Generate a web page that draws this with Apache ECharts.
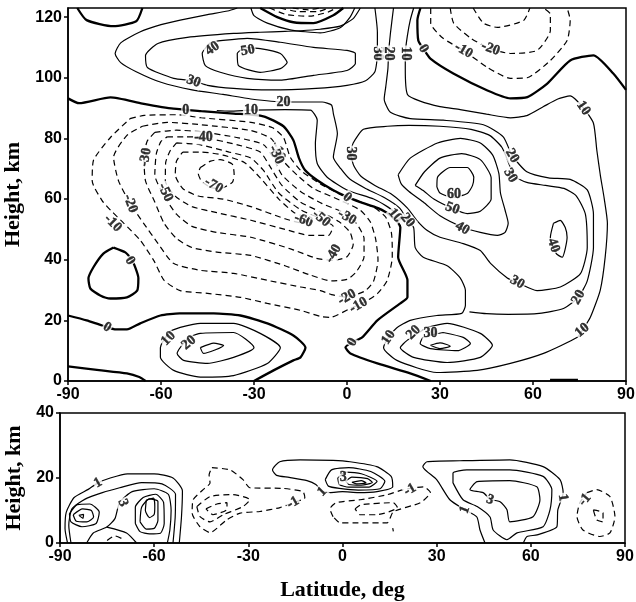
<!DOCTYPE html>
<html>
<head>
<meta charset="utf-8">
<script src="https://cdn.jsdelivr.net/npm/echarts@6/dist/echarts.min.js"></script>
<style>
  html, body { margin: 0; padding: 0; background: #fff; }
  #main { width: 636px; height: 602px; }
</style>
</head>
<body>
<div id="main"></div>
<script>
// axis ticks
var latTicks = [-90, -60, -30, 0, 30, 60, 90];
var topHeightTicks = [0, 20, 40, 60, 80, 100, 120];
var topHeightMax = 123;
var bottomHeightTicks = [0, 20, 40];

// upper panel: zero isolines [lat, km]
var topZero = [
  [[-90,93.2],[-86.4,91.6],[-76.3,93.5],[-66,91.5],[-56,89.8],[-47,89],[-36.6,88.2],[-27,87.3],[-20.5,84],[-17.3,79.4],[-15.5,73.5],[-13.5,69.5],[-9.6,66.2],[-4.4,62.9],[0,60.7],[4.3,59],[10,57],[14,54.6],[17.2,50.7],[16.5,40.8],[19.5,33.2],[19.5,27.6],[17.2,25.6],[9.8,20],[4.9,14.4],[1.7,12.8],[-0.5,11.1],[1.1,9.1],[9.8,5.8],[20.4,2.5],[27,0]],
  [[-87,123],[-84,119],[-75.4,117],[-68,118.6],[-66,123]],
  [[-28,123],[-22.5,120],[-17.3,118.3],[-10.8,118],[-4.4,120.6],[-1.2,123]],
  [[23.7,123],[22.7,119],[23,112.3],[24.6,109.6],[26.9,106.3],[34.3,101.4],[45.3,95.8],[52.7,93.2],[58.2,93.6],[64.6,98.1],[72,105.7],[79.5,107.4],[85.9,101.4],[90,96]],
  [[-90,21.6],[-84,20],[-79,18.3],[-74.4,17],[-71,17],[-66.7,19],[-60.2,21.6],[-54,22.3],[-43,22.3],[-34.4,21.6],[-25.7,19],[-17.3,15],[-13.4,11],[-15,7.8],[-17.3,6.8],[-23.7,3.5],[-30,0]],
  [[-90,4.8],[-80,3.6],[-71,2.5],[-67,1.3],[-65,0]],
  [[-75.3,44],[-71.5,42.4],[-69.5,40],[-68.3,37.5],[-67.3,34],[-67.7,29.8],[-71,27.6],[-76.3,27.2],[-79.6,28.2],[-82.8,30.5],[-83.4,33.8],[-81.8,37.5],[-78.6,42],[-75.3,44]],
  [[65.5,0.4],[74.5,0.4]]
];

// upper panel: positive isolines
var topPositive = [
  [[-35.4,123],[-38.5,122],[-45,120.8],[-53.8,119],[-60,117.5],[-67,115],[-73,111.5],[-74.8,108],[-73,105],[-68,102],[-60,98.5],[-50,96],[-40,94.5],[-31,93],[-20.5,92],[-12,92],[-8,92],[-5,91],[-4.4,88.2],[-3.1,81.6],[-4.4,73.8],[-2,70],[1,66.5],[6,63.5],[12,60.5],[17,57],[19.5,53],[21.5,50.6],[22,44],[24.6,40.8],[32.3,38],[36.5,34],[38.2,29.8],[38.2,25],[37,22.3],[29,21.6],[20.4,20],[16,17.5],[13.4,14.4],[11.8,11],[16.1,6.8],[29,2.8],[42,3.5],[52.7,5.8],[63.4,9.1],[74.3,14.4],[75.9,16.7],[78.5,21],[81.7,30],[83.3,41],[84,52],[83,60],[81.7,68],[80.6,76],[79.5,85],[76.3,90],[72,94],[68,93],[63.4,90.5],[58,87.5],[52.7,86.8],[45,88],[36.5,89.5],[30,90.5],[23.6,92.3],[19.5,94.5],[18.8,103],[18.8,108],[19.5,114],[20.4,119],[21.5,123]],
  [[15,123],[14,114.6],[13.4,108],[13.2,103],[12.5,97],[12,93],[14,88.6],[20.4,86.5],[31,86],[44,84.5],[50.4,80.5],[53.3,74.3],[58,69],[65,67],[72,66.5],[77.5,63],[79.5,55],[79.5,44],[77.5,33],[74.6,27.6],[70,24],[62,22.3],[52,22],[45,22.2],[39.5,22.8]],
  [[15.6,55.5],[13,57.5],[8.6,60],[0,63],[-6.4,67.2],[-9.6,71.7],[-10.2,78.3],[-9.6,86],[-11.8,89.3],[-20,89.5],[-31,89.3],[-38,89],[-42,89.2]],
  [[-31,123],[-30,120.5],[-25.7,118],[-18.3,115.8],[-8.6,114.8],[-2.2,116.5],[1,120],[2.5,123]],
  [[4.3,123],[2,119.5],[-2.2,117],[-8.6,116],[-15,115.5],[-20,115.3],[-28,115],[-36.6,114.6],[-51.5,113.3],[-61,111.3],[-65,107.3],[-64.4,103.4],[-55.9,99.8],[-49.5,99],[-45,97.5],[-36.6,96.5],[-25,96],[-10,96.5],[0,97.5],[6,99],[9,102],[9.8,108],[9.8,115],[9,123]],
  [[-40,112.3],[-32.2,113],[-21.5,111.7],[-10.8,110],[0,109],[2.7,108],[2.7,104.7],[0,102.4],[-10.8,100.8],[-21.5,99.2],[-32.2,99.8],[-40.9,101.8],[-45.7,104],[-46.7,108],[-44,111.5],[-40,112.3]],
  [[-33,110],[-28,109.6],[-21.5,108],[-19.3,105],[-21.5,103],[-28,101.8],[-35,104],[-35.4,108],[-33,110]],
  [[1.1,75],[2,78.5],[5.3,83],[13,84],[20,84.3],[30,84],[40,83],[46,81],[50,77],[52.5,71],[54,67.5],[58,65.5],[64,64.5],[70,63.5],[74,61],[76.9,55],[77.5,44],[75.3,35.4],[68.8,31],[61.3,29.8],[54.9,32.5],[51.7,34],[46.3,38.8],[43,43],[37.5,45.3],[30,47.4],[25.9,49.6],[22.5,53],[19.5,57],[14.5,61.5],[9,64.5],[4.5,67.5],[2.2,71],[1.1,75]],
  [[16.5,68],[20.4,73.5],[29.2,78.5],[36.6,80],[43,78.5],[47,74.5],[49,68.4],[49.5,62],[51,56.3],[52,52],[51,49],[48.5,48],[43,49],[37.2,50.8],[30,54.5],[24.6,59],[20,62.5],[17.5,65],[16.5,68]],
  [[22,64.5],[25,69],[30,73.5],[37,75],[43,73],[46.5,67],[46.5,60],[43,56],[38.8,55.2],[34,56.9],[28,60],[24.6,62.8],[22,64.5]],
  [[29,64],[29.2,67.2],[33.3,70.4],[38.8,70.4],[40.9,67.2],[40.5,64.5],[38.8,61.8],[34,60.5],[30,62],[29,64]],
  [[66.6,52],[68.8,53],[70.4,50.6],[71,47.4],[69.4,40.8],[67.5,42],[65.6,47.4],[66.6,52]],
  [[-57,16.5],[-53.8,17.7],[-47.3,19],[-36.6,19],[-28,15.7],[-21.5,11],[-25.7,5.8],[-36.6,1.8],[-47.3,1.3],[-55.9,3.5],[-60.2,7.8],[-60.2,11],[-57,16.5]],
  [[-51,14.5],[-47.3,15.7],[-36.6,16],[-30,11],[-36.6,7.8],[-45,5.8],[-52.7,6.8],[-54.8,9.1],[-51,14.5]],
  [[-47.3,11],[-43,12.5],[-39.8,11.7],[-46.3,9.1],[-47.3,11]],
  [[25.9,17.7],[32.3,19],[43,15.7],[46.9,11.8],[43,7.8],[32.3,6.1],[21.5,7.8],[17.2,11],[19.4,13.4],[25.9,17.7]],
  [[31,16],[37.5,14.4],[39.8,12.4],[35.6,10],[26.9,10.7],[23.6,12.4],[24.6,14.4],[31,16]],
  [[26.9,11.8],[30,12.6],[33.3,11.5],[30,10.7],[26.9,11.8]]
];

// upper panel: negative isolines
var topNegative = [
  [[-70,86.5],[-65.4,87.6],[-55,87.8],[-47,86.8],[-31,85.3],[-24,83.5],[-20.5,80.3],[-18.3,73.8],[-15,69.5],[-8.6,65],[-1.2,61.1],[8.6,57.3],[12.5,54],[14.3,49],[14.6,44],[14.6,40.8],[12.9,33],[9.8,28.8],[6.5,26.5],[1,23.9],[-5.4,21],[-8.6,21.3],[-15,23.3],[-25.7,25.6],[-34.4,27.6],[-45,28.9],[-53.8,29.8],[-59,33.2],[-62.3,39.7],[-66.7,46.4],[-72,52],[-76,56],[-79,59.5],[-82.2,66],[-81.8,72.7],[-76.3,80.3],[-70,86.5]],
  [[-66,84],[-58,85.3],[-47,84.5],[-31,82.6],[-24.5,80],[-22,76],[-20.5,72.5],[-16,67.8],[-10.8,63.5],[-2.2,59.6],[4.3,56.3],[7.5,52.5],[9.2,47],[10,40],[8.6,33],[6,29.8],[3,28.5],[0,27.6],[-5,28.5],[-8.6,29.8],[-15,31],[-25.7,33.2],[-36.6,35.5],[-47.3,36.5],[-56,38.8],[-61,45.4],[-65.6,52],[-69.9,58.5],[-73.7,66],[-75.3,73.8],[-71,81],[-66,84]],
  [[-62,82],[-55,82.7],[-47,82.2],[-35,80.2],[-27,78],[-24,74],[-21,68],[-15,62.5],[-8,58.5],[-1,55.5],[3,52],[5.5,47],[5.5,41],[3,36],[0,33.5],[-5,33],[-12,35],[-20,38],[-31,41.4],[-42,42.5],[-50,44],[-55,47],[-59,52],[-62,59],[-65,66],[-65.5,73.8],[-64.5,79],[-62,82]],
  [[-58,80.5],[-52,80.5],[-46.3,80.3],[-35,77.8],[-28,75.5],[-25,71],[-21,64.5],[-15,59],[-8,55.5],[-2.5,52.5],[1,49],[2,45],[0,41],[-4.4,39.8],[-10,40.5],[-18,43.5],[-31,47.4],[-42,49],[-50,51],[-55,55],[-59,61],[-62,68],[-61.5,75],[-60,79],[-58,80.5]],
  [[-55,78.5],[-48,78],[-38,75.5],[-31,73.5],[-27,69.5],[-22,62],[-15,56.5],[-8.5,53.5],[-4.5,51],[-6,48],[-12,48],[-20,50],[-31,53],[-42,55.5],[-50,57.5],[-55.5,61],[-58.6,66],[-58.5,72],[-57,76],[-55,78.5]],
  [[-53,75.5],[-47,75.5],[-40,74.5],[-33,72],[-28,67],[-22,60],[-17,55.5],[-12.5,53.5],[-14,52],[-20,53.5],[-31,57.5],[-40,60],[-48,61],[-53,63.5],[-55.4,68],[-55,72.5],[-53,75.5]],
  [[-47.3,70.4],[-44,72.5],[-40.9,73],[-37,71.5],[-36.4,68],[-37,65.5],[-40.9,63.5],[-44,63.8],[-47,66],[-48,68.5],[-47.3,70.4]],
  [[-25,123],[-19.5,120.8],[-12,120.3],[-6,121.7],[-3.5,123]],
  [[-21.5,123],[-15.5,121.8],[-9.5,121.8],[-6,123]],
  [[-17.5,123],[-12.5,122.4],[-9,123]],
  [[27,123],[27,118],[31,113],[37.6,109],[45.3,103.4],[52.7,99.8],[58.1,100],[65.6,105.7],[71,112.3],[72,119],[71,123]],
  [[33.3,123],[34.4,118],[40,113],[46.3,109.6],[52.7,108],[61.3,109],[65.6,115.6],[65.6,121],[63.4,123]],
  [[40.7,123],[44,118],[48.5,116.6],[57,118.9],[59,123]]
];

// upper panel labels [lat, km, text] and their angles
var topLabels = [
  [-52,89.3,'0'],[-31,89.3,'10'],[-20.5,92,'20'],[-49.5,98.8,'30'],[-43.4,109.6,'40'],[-32,109,'50'],
  [9.8,108,'30'],[13.4,108,'20'],[18.8,108,'10'],[24.6,109.6,'0'],[37.6,109,'-10'],[46.3,109.6,'-20'],
  [76.3,90,'10'],[-46.3,80.3,'-40'],[-22.2,75.8,'-10'],[-22.8,74.6,'-30'],[-65,73.8,'-30'],[-43,64.5,'-70'],
  [-58.6,62.2,'-50'],[-69.9,58.5,'-20'],[-75.5,52,'-10'],[-70,39.7,'0'],[-77.4,17.7,'0'],[-57.6,14,'10'],
  [-51,12.6,'20'],[-14,53,'-60'],[-8.3,53.6,'-50'],[0,54,'-30'],[0.1,60.5,'0'],[15.6,54.6,'10'],
  [19.5,53,'20'],[1.1,75,'30'],[34.5,61.5,'60'],[34,56.9,'50'],[37.2,50.3,'40'],[66.6,44.7,'40'],
  [53.3,74.3,'20'],[52.7,67.8,'30'],[54.9,32.5,'30'],[74.6,27.6,'20'],[75.9,16.7,'10'],[-4.4,42,'-40'],
  [0,27.6,'-20'],[3.7,25,'-10'],[1.7,12.8,'0'],[13.4,14.4,'10'],[21.4,16,'20'],[26.9,15.7,'30']
];
var topLabelAngles = [
  0,0,0,-20,35,10,
  -90,-90,-90,-60,-30,-20,
  -55,0,-70,-65,80,-30,
  -65,-70,-45,-60,-30,45,
  40,-20,-40,-30,-40,-50,
  -50,-90,0,-20,-30,-70,
  -60,-60,-30,60,40,60,
  30,30,60,55,45,0
];

// lower panel isolines
var bottomPositive = [
  [[-87.6,0],[-88.4,4.5],[-88,9.5],[-85.5,14],[-81,16.5],[-77.9,18.5],[-74,20],[-68.5,21.3],[-60,21.3],[-54,20],[-51,16],[-51.3,8],[-52,0]],
  [[-86.5,0],[-87.2,5.5],[-86.2,10.5],[-82,13.5],[-76.5,15.5],[-71,17],[-64,18.6],[-57.5,18.2],[-53.2,15],[-53.3,8],[-54,0]],
  [[-87,9],[-84.5,11.8],[-80.5,12],[-77.5,9.5],[-78.5,6],[-83,5],[-86.5,6.5],[-87,9]],
  [[-85.8,8.7],[-82.8,10.5],[-80,10],[-79.3,8],[-81.5,6.5],[-84.8,6.7],[-85.8,8.7]],
  [[-84,8.5],[-82.5,8.8],[-82.7,7.6],[-84,8.5]],
  [[-81.5,0],[-79.4,3.1],[-75.1,4.9],[-72.5,7.5],[-71,12.5],[-67,15.8],[-60,16.7],[-55.5,15],[-54.6,10],[-55,4],[-55.8,0]],
  [[-75.1,4.9],[-68.8,3.1],[-65.6,0]],
  [[-66,6],[-66,11],[-63.5,14],[-59.5,15],[-57,12.5],[-56.8,6],[-58,3],[-61.5,2.8],[-64.5,3.5],[-66,6]],
  [[-64.5,6.5],[-64,11],[-61.5,13.6],[-58.8,12.8],[-58.8,7],[-60,4.5],[-62.5,4.3],[-64.5,6.5]],
  [[-62.5,13.2],[-60.2,13.8],[-59.8,11.2],[-60,8.8],[-61.5,7.8],[-62.8,10],[-62.5,13.2]],
  [[-6.5,15.8],[-8.5,18],[-11.3,19.2],[-17,20.2],[-21,20.8],[-22.3,22.5],[-20,25],[-13.5,25.6],[-3,25.4],[2.4,25],[10.9,23.5],[15.5,20.5],[16,17.3],[11,15.8],[5,15.5],[0,15.8],[-4,15.5],[-6.5,15.8]],
  [[-5.5,19.5],[-3.5,22.5],[2,23.2],[9,22],[13.5,19],[12,16.7],[5,16.3],[-1,16.8],[-4.5,17.5],[-5.5,19.5]],
  [[-1.5,20],[1,21.8],[6,21.3],[11,19],[8.5,17.2],[2,17.2],[-1,18],[-1.5,20]],
  [[1,19],[3,20.3],[8,19.8],[9.5,18.6],[6,17.8],[2,18],[1,19]],
  [[3,18.7],[6,19.2],[7.5,18.5],[4.5,18.2],[3,18.7]],
  [[45.4,0],[43.8,4],[42.8,8],[39,10.2],[34.2,13.3],[30,19.5],[25.6,23.5],[26.9,25],[37.4,25.3],[53.3,25.6],[63.9,23.5],[69.3,19.5],[70.3,15.5],[68.6,10.2],[68.3,5],[62,2.5],[58.8,2],[57.6,0]],
  [[35.2,18.5],[35.2,21.5],[39.6,22.5],[53.3,22.5],[63.9,20.5],[66.7,16.4],[66.1,10.2],[63.9,5],[55.6,3.1],[52.4,1],[48,4],[47,8],[42.9,11.2],[38.4,13.3],[35.2,18.5]],
  [[47,13.3],[44.8,15.5],[40.6,16.4],[42.9,18.9],[53.3,19.2],[61.9,17.3],[62.9,13.3],[60.7,8.1],[53.3,6.5],[52.4,10.2],[50.2,12.7],[47,13.3]]
];
var bottomNegative = [
  [[-41.6,23.2],[-35.8,22.5],[-31.7,19.5],[-29.5,17],[-19,16.8],[-12.6,15.8],[-12,13.9],[-15.8,12.4],[-19.9,10.9],[-26.3,9.7],[-32.6,9.2],[-36.8,7.2],[-42.2,3.2],[-45.4,5],[-47.9,9.2],[-47.6,13.3],[-44.4,16.4],[-42.2,18.5],[-42.5,21],[-41.6,23.2]],
  [[-46.4,11.2],[-42.2,14.3],[-34.9,14.9],[-29.5,13.3],[-31.7,11.2],[-38,8.7],[-42.2,6.5],[-45.4,8.1],[-46.4,11.2]],
  [[-43.5,10.5],[-40,12],[-36.8,12.4],[-36.8,10.4],[-41.3,8.7],[-43.5,10.5]],
  [[-3,8.1],[-4,10.5],[-2,12.4],[5.6,13.3],[14,14.8],[19.4,16.4],[25.8,17.3],[28,15.5],[24.8,12.4],[16.2,9.6],[14.2,6.2],[5,6.2],[-0.8,6.2],[-3,8.1]],
  [[4,10.5],[6,11.8],[16.2,12.4],[17.5,10.9],[10.9,8.7],[5.6,8.7],[4,10.5]],
  [[77.9,15.5],[81,16.4],[85.2,14.3],[86.8,8.1],[85.2,3.1],[82,2],[76.6,4],[74.7,8.1],[75.6,12.4],[77.9,15.5]],
  [[79.9,10.2],[83,9.3],[83,6.5],[81,7.1],[79.9,10.2]],
  [[-75,0.8],[-72.5,2.2],[-70,1.2]],
  [[16,4.6],[16.2,3.6]]
];
var bottomLabels = [
  [-77.9,18.5,'1'],[-70,12.4,'3'],[-15.8,12.4,'-1'],[-6.5,15.8,'1'],[0.2,20.1,'3'],
  [21.5,16.4,'-1'],[39,10.2,'1'],[47,13.3,'3'],[70.2,14,'1'],[77.2,13.3,'-1']
];
var bottomLabelAngles = [30,-70,30,45,0,30,70,-20,-80,50];

var chart = echarts.init(document.getElementById('main'));

var tickFont = { fontFamily: 'Liberation Sans', fontWeight: 'bold', fontSize: 16, color: '#000' };
var titleFont = { fontFamily: 'Liberation Serif', fontWeight: 'bold', fontSize: 22, color: '#000' };

function lineSeries(lines, idx, width, dash) {
  return lines.map(function (pts) {
    return {
      type: 'line', xAxisIndex: idx, yAxisIndex: idx,
      data: pts, symbol: 'none', smooth: 0.2, silent: true,
      lineStyle: { color: '#000', width: width, type: dash ? [6, 4] : 'solid' },
      z: 2
    };
  });
}

function labelSeries(labels, angles, idx) {
  return {
    type: 'scatter', xAxisIndex: idx, yAxisIndex: idx, symbolSize: 1, silent: true,
    itemStyle: { color: 'rgba(0,0,0,0)' },
    data: labels.map(function (l, i) {
      return { value: [l[0], l[1]], name: l[2], label: { rotate: angles[i] } };
    }),
    label: {
      show: true, position: 'inside', formatter: '{b}',
      fontFamily: 'Liberation Serif', fontWeight: 'bold', fontSize: 14, color: '#000',
      textBorderColor: '#000', textBorderWidth: 0.4,
      backgroundColor: '#fff', padding: [0, 1]
    },
    z: 5
  };
}

function xAxis(idx, name) {
  return {
    type: 'value', gridIndex: idx, min: latTicks[0], max: latTicks[latTicks.length - 1],
    interval: latTicks[1] - latTicks[0],
    axisLine: { show: true, onZero: false, lineStyle: { color: '#000', width: 1.5 } },
    axisTick: { show: true, length: 4, lineStyle: { color: '#000', width: 1.5 } },
    axisLabel: Object.assign({ margin: 6 }, tickFont),
    splitLine: { show: false },
    name: name, nameLocation: 'middle', nameGap: 36, nameTextStyle: titleFont
  };
}

function yAxis(idx, ticks, max, gap) {
  return {
    type: 'value', gridIndex: idx, min: ticks[0], max: max, interval: ticks[1] - ticks[0],
    axisLine: { show: true, onZero: false, lineStyle: { color: '#000', width: 1.5 } },
    axisTick: { show: true, length: 4, lineStyle: { color: '#000', width: 1.5 } },
    axisLabel: Object.assign({
      margin: 6, showMaxLabel: max === ticks[ticks.length - 1],
      formatter: function (v) { return ticks.indexOf(v) >= 0 ? String(v) : ''; }
    }, tickFont),
    splitLine: { show: false },
    name: 'Height, km', nameLocation: 'middle', nameRotate: 90, nameGap: gap, nameTextStyle: titleFont
  };
}

var series = []
  .concat(lineSeries(topNegative, 0, 1.2, true))
  .concat(lineSeries(topPositive, 0, 1.2, false))
  .concat(lineSeries(topZero, 0, 2.3, false))
  .concat(lineSeries(bottomNegative, 1, 1.2, true))
  .concat(lineSeries(bottomPositive, 1, 1.2, false));
series.push(labelSeries(topLabels, topLabelAngles, 0));
series.push(labelSeries(bottomLabels, bottomLabelAngles, 1));

chart.setOption({
  animation: false,
  backgroundColor: '#fff',
  grid: [
    { left: 68, top: 8, width: 558, height: 373, show: true, borderColor: '#000', borderWidth: 1.5, outerBoundsMode: 'none', containLabel: false },
    { left: 60, top: 413, width: 565, height: 130, show: true, borderColor: '#000', borderWidth: 1.5, outerBoundsMode: 'none', containLabel: false }
  ],
  xAxis: [xAxis(0, ''), xAxis(1, 'Latitude, deg')],
  yAxis: [yAxis(0, topHeightTicks, topHeightMax, 42), yAxis(1, bottomHeightTicks, bottomHeightTicks[2], 32)],
  series: series
});
</script>
</body>
</html>
